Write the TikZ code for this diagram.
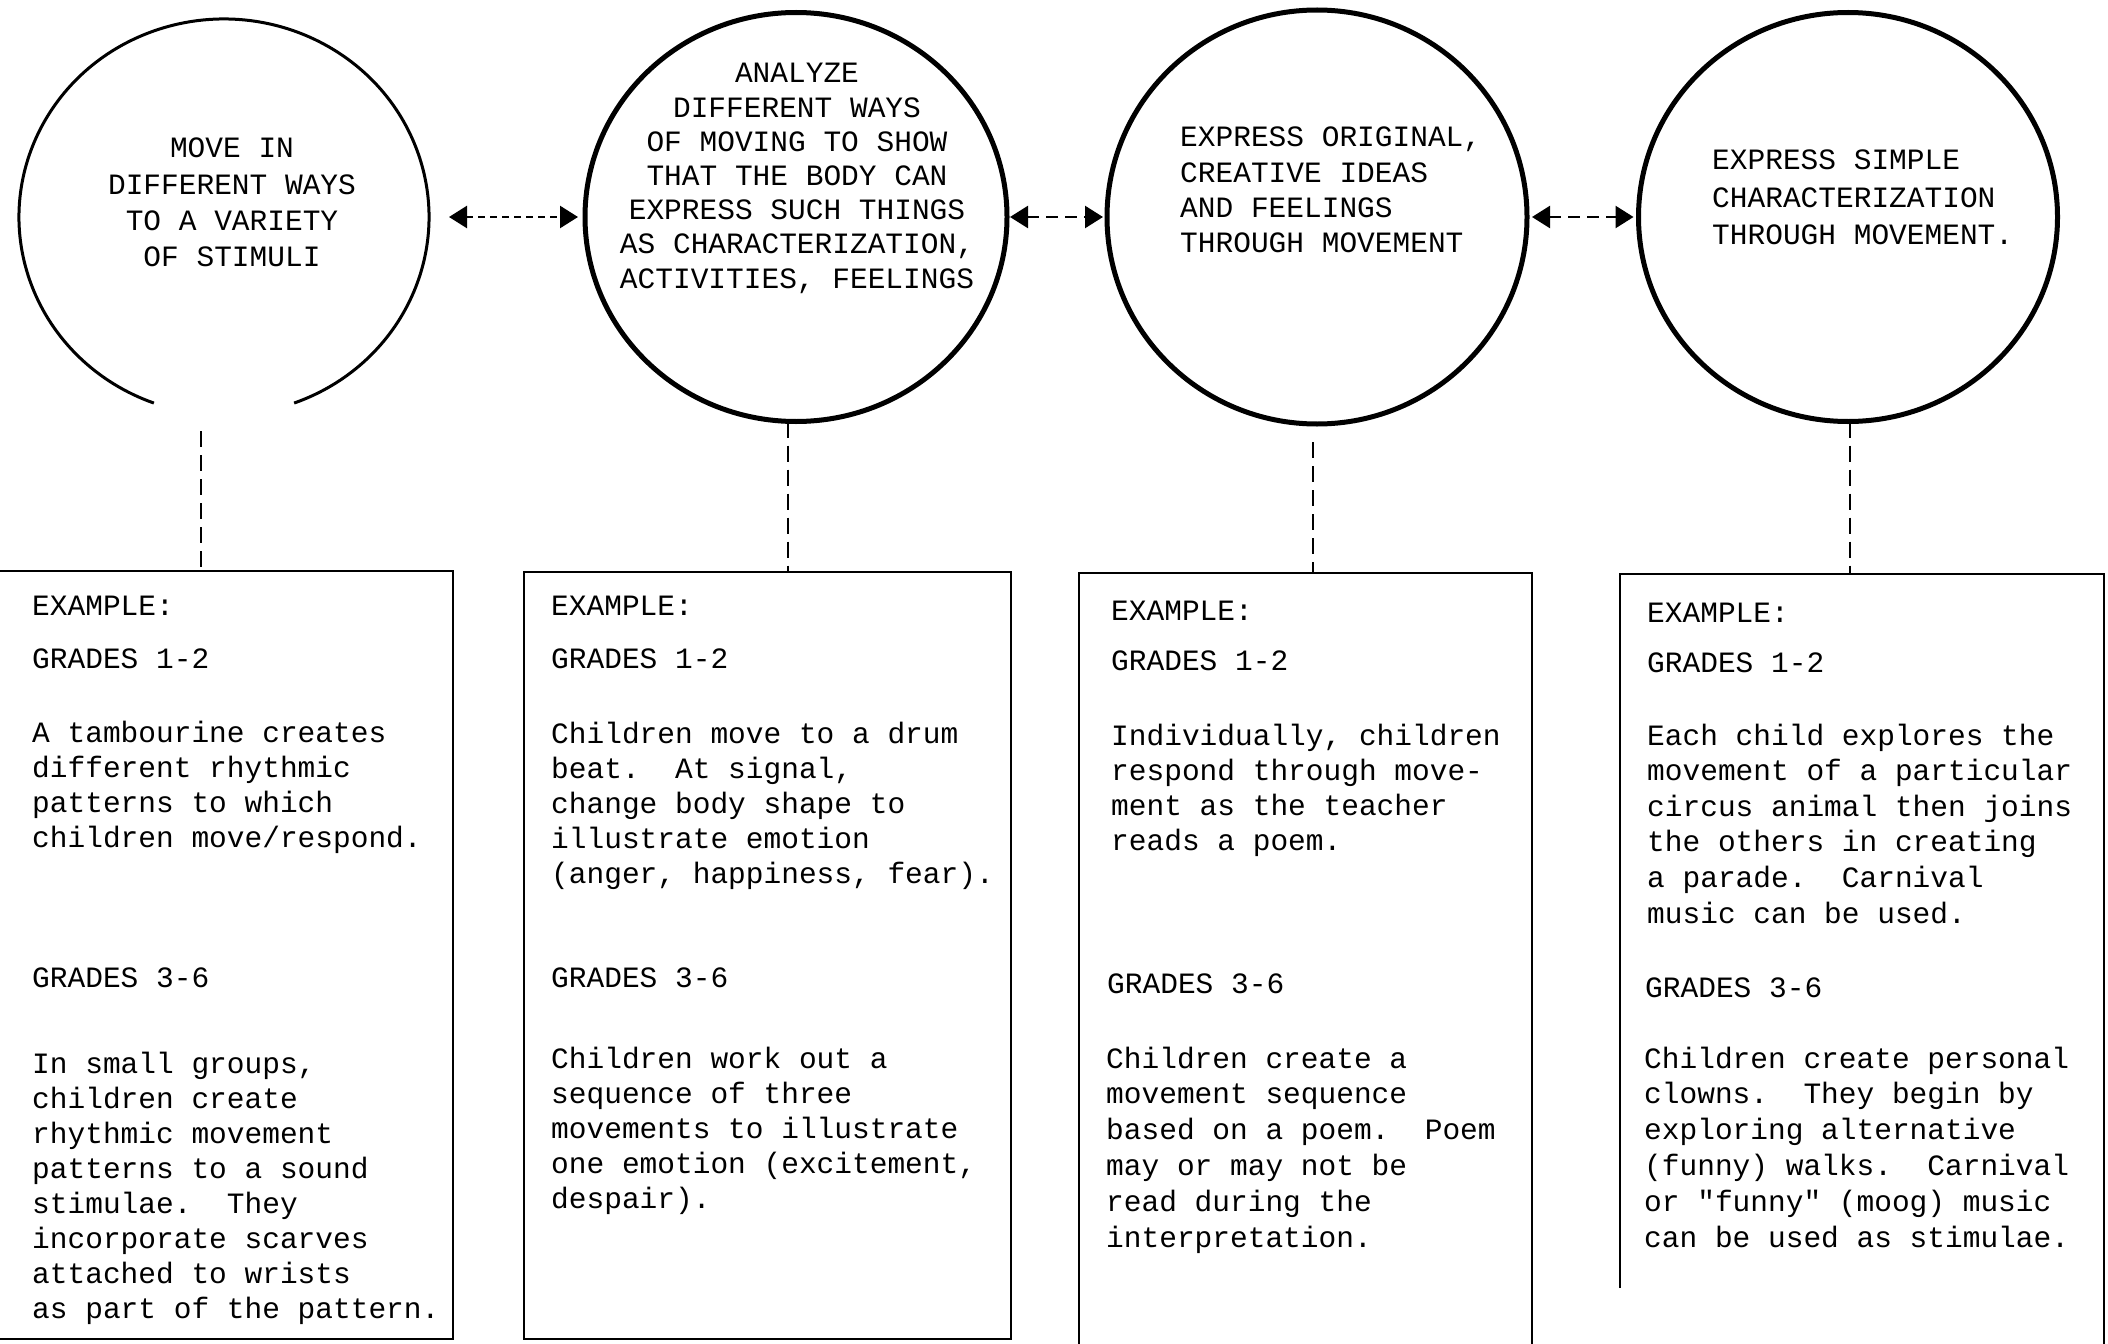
\documentclass[tikz,border=0pt]{standalone}
\usepackage{fontspec}
\usetikzlibrary{arrows.meta,shapes.geometric,calc}
\newfontfamily\twfam{Liberation Mono}
% typewriter text at a given line spacing
\newcommand{\tws}[1]{\twfam\fontsize{29.5pt}{#1pt}\selectfont\frenchspacing}
\newcommand{\linesl}[1]{\begin{tabular}[t]{@{}l@{}}#1\end{tabular}}
\newcommand{\linesc}[1]{\begin{tabular}[t]{@{}c@{}}#1\end{tabular}}
\begin{document}
\begin{tikzpicture}[x=1pt,y=1pt,
  goal/.style={ellipse, draw, line width=5pt, inner sep=0pt, outer sep=0pt},
  panel/.style={rectangle, inner sep=0pt, outer sep=0pt, anchor=north west},
  rule/.style={line width=2.7pt},
  txt/.style={inner sep=0pt, anchor=base west, font=\tws{35.3}},
  link/.style={line width=2pt, dash pattern=on 16pt off 8pt},
  pair/.style={line width=2.5pt, {Triangle[length=18pt,width=22pt]}-{Triangle[length=18pt,width=22pt]}}
]
\useasboundingbox (0,0) rectangle (2108,-1343);
\fill[white] (0,0) rectangle (2108,-1343);
\clip (0,0) rectangle (2108,-1343);

% goals
\node[goal, draw=none, minimum width=410pt, minimum height=396pt] (e1) at (224,-217) {};
\draw[line width=3pt] ($(e1.center)+(290:205pt and 198pt)$)
  arc[start angle=290, end angle=610, x radius=205, y radius=198];
\node[goal, minimum width=422pt, minimum height=409pt] (e2) at (796,-217) {};
\node[goal, minimum width=420pt, minimum height=414pt] (e3) at (1317,-217) {};
\node[goal, minimum width=419pt, minimum height=409pt] (e4) at (1848,-217) {};

\node[txt, anchor=base, font=\tws{36.3}] (g1) at (232,-158)
  {\linesc{MOVE IN\\DIFFERENT WAYS\\TO A VARIETY\\OF STIMULI}};
\node[txt, anchor=base, font=\tws{34.2}] (g2) at (797,-83)
  {\linesc{ANALYZE\\DIFFERENT WAYS\\OF MOVING TO SHOW\\THAT THE BODY CAN\\EXPRESS SUCH THINGS\\AS CHARACTERIZATION,\\ACTIVITIES, FEELINGS}};
\node[txt, font=\tws{35.3}] (g3) at (1180,-147)
  {\linesl{EXPRESS ORIGINAL,\\CREATIVE IDEAS\\AND FEELINGS\\THROUGH MOVEMENT}};
\node[txt, font=\tws{37.5}] (g4) at (1712,-170)
  {\linesl{EXPRESS SIMPLE\\CHARACTERIZATION\\THROUGH MOVEMENT.}};

% links between goals
\draw[pair, dash pattern=on 7pt off 5pt] ([xshift=20pt]e1.east) -- ([xshift=-7pt]e2.west);
\draw[pair, dash pattern=on 12pt off 7pt] ([xshift=3pt]e2.east) -- ([xshift=-4pt]e3.west);
\draw[pair, dash pattern=on 12pt off 7pt] ([xshift=5pt]e3.east) -- ([xshift=-5pt]e4.west);

% example panels
\node[panel, minimum width=463pt, minimum height=768pt] (b1) at (-10,-571) {};
\node[panel, minimum width=487pt, minimum height=767pt] (b2) at (524,-572) {};
\node[panel, minimum width=453pt, minimum height=790pt] (b3) at (1079,-573) {};
\node[panel, minimum width=484pt, minimum height=790pt] (b4) at (1620,-574) {};
\draw[rule] (b1.south west) rectangle (b1.north east);
\draw[rule] (b2.south west) rectangle (b2.north east);
\draw[rule] (b3.south west) rectangle (b3.north east);
\draw[rule] ($(b4.north west)+(0,-714)$) -- (b4.north west) -- (b4.north east) -- (b4.south east);

% goal to panel
\coordinate (s1) at ($(e1.south)+(-23,-16)$);
\coordinate (s2) at ($(e2.south)+(-8,0)$);
\coordinate (s3) at ($(e3.south)+(-4,-18)$);
\coordinate (s4) at ($(e4.south)+(2,0)$);
\draw[link] (s1) -- (s1 |- b1.north);
\draw[link] (s2) -- (s2 |- b2.north);
\draw[link] (s3) -- (s3 |- b3.north);
\draw[link] (s4) -- (s4 |- b4.north);

% panel 1
\node[txt] (x1) at (32,-615) {EXAMPLE:};
\node[txt] (h1a) at (32,-668) {GRADES 1-2};
\node[txt, font=\tws{35}] (p1a) at (32,-742)
  {\linesl{A tambourine creates\\different rhythmic\\patterns to which\\children move/respond.}};
\node[txt] (h1b) at (32,-987) {GRADES 3-6};
\node[txt, font=\tws{35}] (p1b) at (32,-1073)
  {\linesl{In small groups,\\children create\\rhythmic movement\\patterns to a sound\\stimulae.~~They\\incorporate scarves\\attached to wrists\\as part of the pattern.}};

% panel 2
\node[txt] (x2) at (551,-615) {EXAMPLE:};
\node[txt] (h2a) at (551,-668) {GRADES 1-2};
\node[txt, font=\tws{35}] (p2a) at (551,-743)
  {\linesl{Children move to a drum\\beat.~~At signal,\\change body shape to\\illustrate emotion\\(anger, happiness, fear).}};
\node[txt] (h2b) at (551,-987) {GRADES 3-6};
\node[txt, font=\tws{35}] (p2b) at (551,-1068)
  {\linesl{Children work out a\\sequence of three\\movements to illustrate\\one emotion (excitement,\\despair).}};

% panel 3
\node[txt] (x3) at (1111,-620) {EXAMPLE:};
\node[txt] (h3a) at (1111,-670) {GRADES 1-2};
\node[txt, font=\tws{35}] (p3a) at (1111,-745)
  {\linesl{Individually, children\\respond through move-\\ment as the teacher\\reads a poem.}};
\node[txt] (h3b) at (1107,-993) {GRADES 3-6};
\node[txt, font=\tws{35.8}] (p3b) at (1106,-1068)
  {\linesl{Children create a\\movement sequence\\based on a poem.~~Poem\\may or may not be\\read during the\\interpretation.}};

% panel 4
\node[txt] (x4) at (1647,-622) {EXAMPLE:};
\node[txt] (h4a) at (1647,-672) {GRADES 1-2};
\node[txt, font=\tws{35.6}] (p4a) at (1647,-745)
  {\linesl{Each child explores the\\movement of a particular\\circus animal then joins\\the others in creating\\a parade.~~Carnival\\music can be used.}};
\node[txt] (h4b) at (1645,-997) {GRADES 3-6};
\node[txt, font=\tws{35.8}] (p4b) at (1644,-1068)
  {\linesl{Children create personal\\clowns.~~They begin by\\exploring alternative\\(funny) walks.~~Carnival\\or "funny" (moog) music\\can be used as stimulae.}};
\end{tikzpicture}
\end{document}
